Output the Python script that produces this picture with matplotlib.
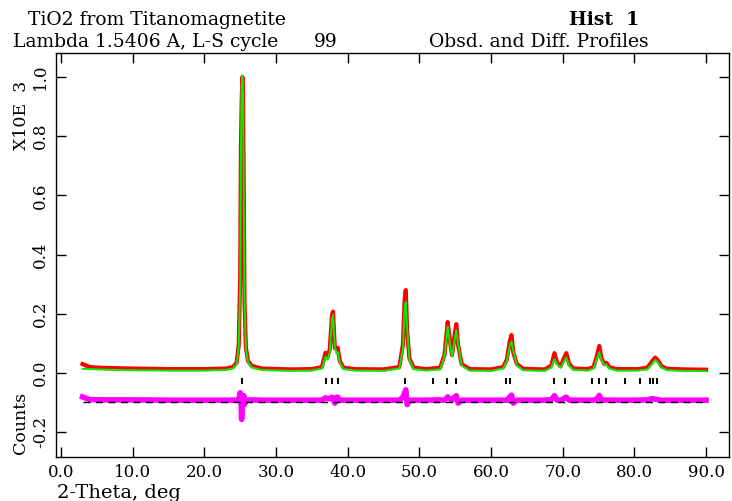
import numpy as np
import matplotlib.pyplot as plt

tth = [3.0, 4.0, 6.0, 10.0, 15.0, 20.0, 23.0, 24.0, 24.5, 24.8,
       25.0, 25.1, 25.2, 25.3, 25.4, 25.5, 25.6, 25.8, 26.1, 26.6,
       28.0, 32.0, 35.0, 36.4, 36.9, 37.2, 37.5, 37.8, 37.95, 38.2,
       38.45, 38.6, 38.9, 39.4, 41.0, 45.0, 47.2, 47.7, 47.95, 48.1,
       48.3, 48.6, 49.2, 51.0, 52.9, 53.5, 53.95, 54.2, 54.55, 54.9,
       55.15, 55.4, 55.9, 57.0, 60.0, 61.7, 62.2, 62.6, 62.85, 63.1,
       63.6, 64.5, 67.5, 68.4, 68.85, 69.2, 69.7, 70.1, 70.5, 70.9,
       71.5, 73.5, 74.3, 74.8, 75.1, 75.4, 75.8, 76.1, 76.5, 77.5,
       80.5, 81.8, 82.5, 82.9, 83.3, 83.8, 84.6, 87.0, 90.0]

calc = [0.014, 0.013, 0.011, 0.009, 0.008, 0.008, 0.010, 0.015, 0.030, 0.090,
        0.300, 0.750, 0.970, 1.005, 0.950, 0.600, 0.250, 0.080, 0.035, 0.018,
        0.010, 0.007, 0.008, 0.015, 0.055, 0.045, 0.070, 0.180, 0.196, 0.090,
        0.065, 0.070, 0.035, 0.013, 0.008, 0.007, 0.015, 0.080, 0.220, 0.240,
        0.150, 0.045, 0.013, 0.008, 0.012, 0.055, 0.156, 0.110, 0.055, 0.110,
        0.145, 0.100, 0.025, 0.008, 0.007, 0.015, 0.040, 0.090, 0.106, 0.075,
        0.025, 0.009, 0.007, 0.018, 0.047, 0.030, 0.018, 0.035, 0.052, 0.025,
        0.010, 0.008, 0.015, 0.050, 0.070, 0.045, 0.025, 0.028, 0.015, 0.008,
        0.008, 0.012, 0.030, 0.044, 0.035, 0.018, 0.009, 0.007, 0.006]

obs = [0.030, 0.020, 0.017, 0.015, 0.013, 0.013, 0.015, 0.020, 0.035, 0.095,
       0.330, 0.760, 0.910, 1.000, 0.940, 0.620, 0.240, 0.085, 0.040, 0.024,
       0.015, 0.012, 0.013, 0.020, 0.068, 0.055, 0.080, 0.195, 0.207, 0.085,
       0.080, 0.085, 0.040, 0.018, 0.013, 0.012, 0.020, 0.095, 0.250, 0.280,
       0.140, 0.050, 0.018, 0.013, 0.018, 0.060, 0.172, 0.120, 0.060, 0.125,
       0.165, 0.095, 0.030, 0.013, 0.012, 0.020, 0.045, 0.105, 0.128, 0.070,
       0.030, 0.014, 0.012, 0.025, 0.067, 0.035, 0.022, 0.045, 0.067, 0.030,
       0.015, 0.013, 0.020, 0.060, 0.091, 0.050, 0.030, 0.034, 0.020, 0.013,
       0.013, 0.018, 0.040, 0.052, 0.042, 0.022, 0.014, 0.012, 0.011]

# anatase reflection positions
refl = [25.28, 36.95, 37.80, 38.58, 48.05, 51.95, 53.89, 55.06, 62.12, 62.69,
        68.76, 70.31, 74.03, 75.03, 76.02, 78.66, 80.73, 82.14, 82.66, 83.15]

diff_offset = -0.097
tick_level = -0.027

xticks = [0, 10, 20, 30, 40, 50, 60, 70, 80, 90]
yticks = [-0.2, 0.0, 0.2, 0.4, 0.6, 0.8, 1.0]

plt.rcParams['font.family'] = ['DejaVu Serif']

fig = plt.figure(figsize=(7.32, 5.01), dpi=100)
ax = fig.add_axes([56 / 732, 44 / 501, 673 / 732, 404 / 501])

x = np.array(tth)
yo = np.array(obs)
yc = np.array(calc)
diff = yo - yc

#observed as a thick red band, calc on top in green
ax.plot(x, yo, color='#ff0000', lw=3.0, solid_joinstyle='round')
ax.plot(x, yc, color='#00ee00', lw=1.4)

#reflection markers
ax.plot(refl, [tick_level] * len(refl), linestyle='none', marker='|',
        color='black', markersize=4, markeredgewidth=1.4)

#difference curve with its zero line
ax.plot(x, diff + diff_offset, color='#ff00ff', lw=4.0, solid_joinstyle='round')
ax.plot([tth[0], tth[-1]], [diff_offset, diff_offset], color='black', lw=1.0,
        dashes=(5, 4))

ax.set_xlim(-0.7, 93.2)
ax.set_ylim(-0.284, 1.081)
ax.set_xticks(xticks)
ax.set_xticklabels(['%.1f' % v for v in xticks], fontsize=12)
ax.set_yticks(yticks)
ax.set_yticklabels(['%.1f' % v for v in yticks], fontsize=12, rotation=90,
                   va='center')
ax.tick_params(direction='in', length=7, width=1.0, top=True, right=True,
               pad=5)
for s in ax.spines.values():
    s.set_linewidth(1.0)

fig.text(28 / 732, 1 - 20 / 501, 'TiO2 from Titanomagnetite',
         fontsize=13.5, va='center', ha='left')
fig.text(13 / 732, 1 - 42 / 501, 'Lambda 1.5406 A, L-S cycle',
         fontsize=13.5, va='center', ha='left')
fig.text(338 / 732, 1 - 42 / 501, '99', fontsize=13.5, va='center', ha='right')
fig.text(649 / 732, 1 - 42 / 501, 'Obsd. and Diff. Profiles',
         fontsize=13.5, va='center', ha='right')
fig.text(604 / 732, 1 - 20 / 501, 'Hist  1', fontsize=13.5, va='center',
         ha='center', fontweight='bold')
fig.text(57 / 732, 1 - 493 / 501, '2-Theta, deg', fontsize=14, va='center',
         ha='left')
fig.text(22 / 732, 1 - 115 / 501, 'X10E  3', fontsize=12.5, va='center',
         ha='center', rotation=90)
fig.text(21 / 732, 1 - 423 / 501, 'Counts', fontsize=12.5, va='center',
         ha='center', rotation=90)

fig.savefig('out.png', dpi=100)
